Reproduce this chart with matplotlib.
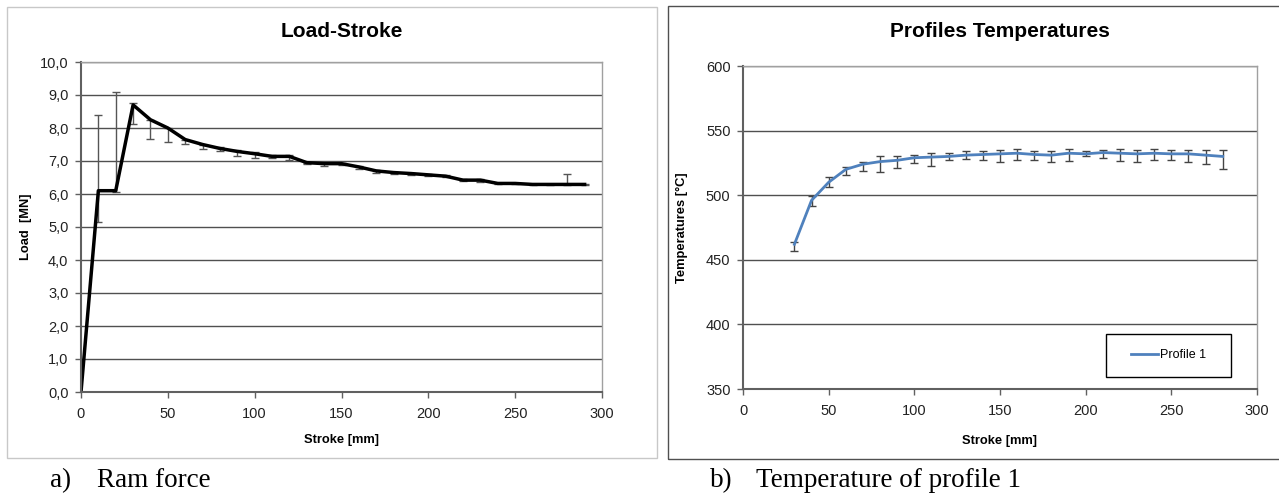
import matplotlib
matplotlib.use('Agg')
from matplotlib import pyplot as plt
from matplotlib.patches import Rectangle

plt.rcParams['font.family'] = ['Liberation Sans', 'DejaVu Sans']

# ---- Load-Stroke data
stroke_load = [0, 10, 20, 30, 40, 50, 60, 70, 80, 90, 100, 110, 120, 130, 140,
               150, 160, 170, 180, 190, 200, 210, 220, 230, 240, 250, 260, 270, 280, 290]
load = [0.0, 6.1, 6.1, 8.7, 8.25, 8.0, 7.65, 7.5, 7.38, 7.29, 7.22, 7.14, 7.14, 6.95, 6.92,
        6.92, 6.82, 6.7, 6.65, 6.62, 6.58, 6.54, 6.42, 6.42, 6.32, 6.32, 6.29, 6.29, 6.29, 6.29]
load_err_low = [0.0, 0.95, 0.05, 0.58, 0.57, 0.43, 0.12, 0.13, 0.08, 0.13, 0.12, 0.04, 0.12, 0.03, 0.07,
                0.05, 0.05, 0.05, 0.03, 0.03, 0.04, 0.03, 0.03, 0.05, 0.03, 0.02, 0.02, 0.02, 0.02, 0.02]
load_err_high = [0.0, 2.3, 2.98, 0.05, 0.0, 0.0, 0.0, 0.0, 0.05, 0.04, 0.05, 0.04, 0.04, 0.0, 0.03,
                 0.03, 0.04, 0.04, 0.02, 0.02, 0.02, 0.03, 0.03, 0.03, 0.02, 0.02, 0.02, 0.02, 0.33, 0.02]
load_ticks = [0, 1, 2, 3, 4, 5, 6, 7, 8, 9, 10]
load_ticklabels = ['0,0', '1,0', '2,0', '3,0', '4,0', '5,0', '6,0', '7,0', '8,0', '9,0', '10,0']

# ---- Profile temperature data
stroke_temp = [30, 40, 50, 60, 70, 80, 90, 100, 110, 120, 130, 140, 150, 160, 170,
               180, 190, 200, 210, 220, 230, 240, 250, 260, 270, 280]
temp = [462, 496, 510, 520, 524, 526, 527, 529, 529.5, 530, 531, 531.5, 532, 532.5, 531.5,
        531, 532.5, 532, 533, 532.5, 532, 532.5, 532, 532, 531, 530]
temp_err_low = [5, 4, 4, 4, 5, 8, 6, 4, 7, 3, 3, 4, 6, 5, 4,
                5, 6, 2, 4, 6, 6, 5, 5, 6, 7, 10]
temp_err_high = [2, 3, 4, 2, 2, 4, 3, 2, 3.5, 3, 3, 3, 3, 3, 2.5,
                 3, 3, 2, 2, 3, 3, 3, 3, 3, 4, 5]

W, H = 1279, 493
fig = plt.figure(figsize=(W / 100, H / 100), dpi=100)

# outer chart frames
fig.patches.append(Rectangle((7 / W, 1 - 458 / H), (657 - 7) / W, (458 - 7) / H,
                             transform=fig.transFigure, fill=False, edgecolor='#c8c8c8', lw=1))
fig.patches.append(Rectangle((668 / W, 1 - 459 / H), (1290 - 668) / W, (459 - 6) / H,
                             transform=fig.transFigure, fill=False, edgecolor='#505050', lw=1))


def style_axes(ax):
    for s in ['left', 'bottom']:
        ax.spines[s].set_color('#606060')
        ax.spines[s].set_linewidth(1.5)
    for s in ['top', 'right']:
        ax.spines[s].set_color('#a0a0a0')
        ax.spines[s].set_linewidth(1.0)
    ax.tick_params(direction='out', length=4, width=1, color='#606060',
                   labelsize=10.5, labelcolor='#222222')
    ax.tick_params(axis='x', pad=7)
    ax.tick_params(axis='y', pad=5)
    ax.yaxis.grid(True, color='#505050', lw=1)
    ax.set_axisbelow(True)


# ---- left chart
ax1 = fig.add_axes([81 / W, 1 - 392 / H, (602 - 81) / W, (392 - 62) / H])
style_axes(ax1)
ax1.errorbar(stroke_load, load, yerr=[load_err_low, load_err_high], fmt='none',
             ecolor='#555555', elinewidth=1, capsize=3, capthick=1)
ax1.plot(stroke_load, load, color='black', lw=2.5)
ax1.set_xlim(0, 300)
ax1.set_ylim(0, 10)
ax1.set_xticks([0, 50, 100, 150, 200, 250, 300])
ax1.set_yticks(load_ticks)
ax1.set_yticklabels(load_ticklabels)
ax1.set_title('Load-Stroke', fontsize=15, fontweight='bold', pad=18)
ax1.set_xlabel('Stroke [mm]', fontsize=9.3, fontweight='bold', labelpad=9)
ax1.set_ylabel('Load  [MN]', fontsize=9.3, fontweight='bold', labelpad=6)

# ---- right chart
ax2 = fig.add_axes([743 / W, 1 - 389 / H, (1257 - 743) / W, (389 - 66) / H])
style_axes(ax2)
ax2.errorbar(stroke_temp, temp, yerr=[temp_err_low, temp_err_high], fmt='none',
             ecolor='#444444', elinewidth=1, capsize=3, capthick=1)
ax2.plot(stroke_temp, temp, color='#4f81bd', lw=2, label='Profile 1')
ax2.set_xlim(0, 300)
ax2.set_ylim(350, 600)
ax2.set_xticks([0, 50, 100, 150, 200, 250, 300])
ax2.set_yticks([350, 400, 450, 500, 550, 600])
ax2.set_title('Profiles Temperatures', fontsize=15, fontweight='bold', pad=21)
ax2.set_xlabel('Stroke [mm]', fontsize=9.3, fontweight='bold', labelpad=12)
ax2.set_ylabel('Temperatures [°C]', fontsize=9.3, fontweight='bold', labelpad=13)
ax2.legend(loc='center', bbox_to_anchor=(0.8275, 0.104), frameon=False,
           fontsize=9, handlelength=2.2, handletextpad=0.1)
ax2.add_patch(Rectangle((0.706, 0.037), 0.243, 0.133, transform=ax2.transAxes,
                        fill=False, edgecolor='black', lw=1))

# ---- captions
cap = dict(fontsize=19.5, family=['Liberation Serif', 'DejaVu Serif'], va='baseline')
fig.text(50 / W, 1 - 487 / H, 'a)', **cap)
fig.text(97 / W, 1 - 487 / H, 'Ram force', **cap)
fig.text(710 / W, 1 - 487 / H, 'b)', **cap)
fig.text(756 / W, 1 - 487 / H, 'Temperature of profile 1', **cap)

fig.savefig('out.png', dpi=100)
